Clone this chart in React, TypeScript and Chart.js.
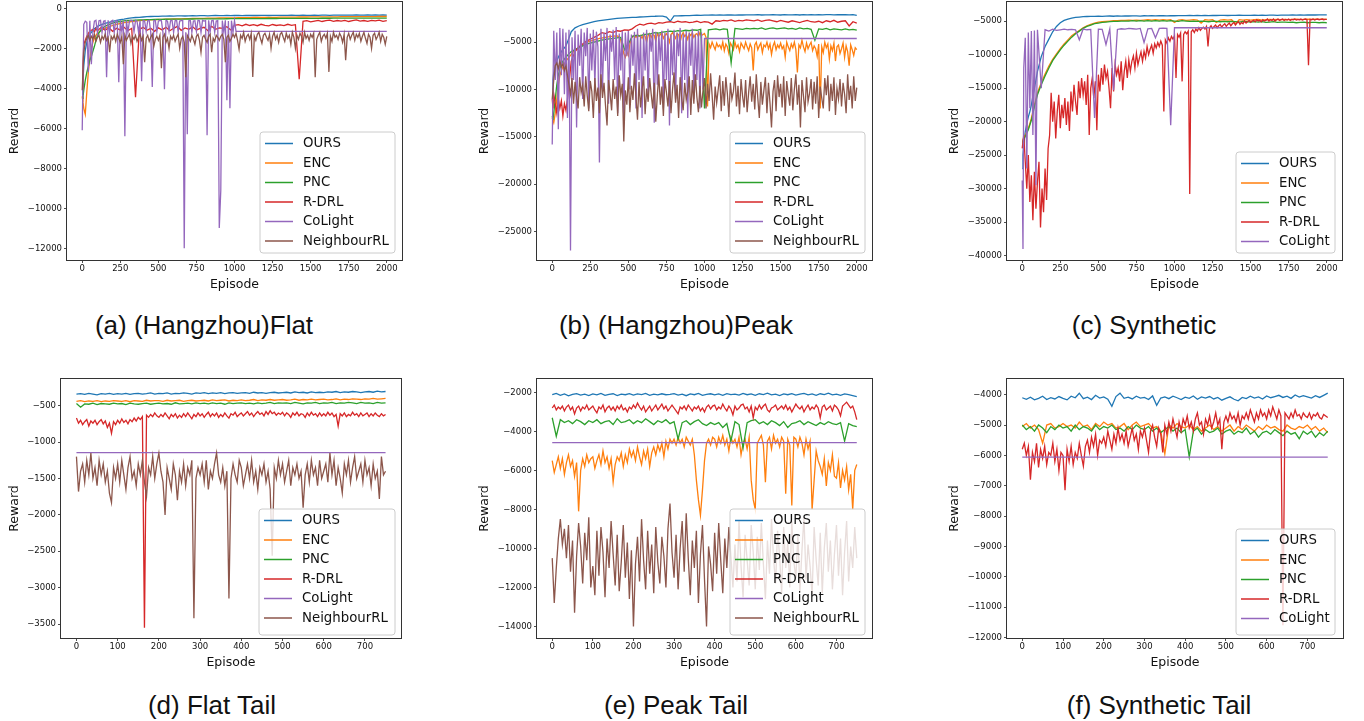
import React, { useEffect, useRef } from 'react';
import { Chart, registerables } from 'chart.js';

Chart.register(...registerables);

// ---------- categories (episodes) ----------
const TOP_EP = [0, 5, 10, 20, 30, 40, 50, 60, 70, 80, 90, 100,
  125, 150, 175, 200, 225, 250, 275, 300,
  325, 350, 375, 400, 425, 450, 475, 500,
  525, 550, 575, 600, 625, 650, 675, 700,
  725, 750, 775, 800, 825, 850, 875, 900,
  925, 950, 975, 1000, 1025, 1050, 1075, 1100,
  1125, 1150, 1175, 1200, 1225, 1250, 1275, 1300,
  1325, 1350, 1375, 1400, 1425, 1450, 1475, 1500,
  1525, 1550, 1575, 1600, 1625, 1650, 1675, 1700,
  1725, 1750, 1775, 1800, 1825, 1850, 1875, 1900,
  1925, 1950, 1975, 2000];

const TOP_FINE_EP = [0, 10, 20, 30, 40, 50, 60, 70, 80, 90,
  100, 110, 120, 130, 140, 150, 160, 170, 180, 190,
  200, 210, 220, 230, 240, 250, 260, 270, 280, 290,
  300, 310, 320, 330, 340, 350, 360, 370, 380, 390,
  400, 410, 420, 430, 440, 450, 460, 470, 480, 490,
  500, 510, 520, 530, 540, 550, 560, 570, 580, 590,
  600, 610, 620, 630, 640, 650, 660, 670, 680, 690,
  700, 710, 720, 730, 740, 750, 760, 770, 780, 790,
  800, 810, 820, 830, 840, 850, 860, 870, 880, 890,
  900, 910, 920, 930, 940, 950, 960, 970, 980, 990,
  1000, 1010, 1020, 1030, 1040, 1050, 1060, 1070, 1080, 1090,
  1100, 1110, 1120, 1130, 1140, 1150, 1160, 1170, 1180, 1190,
  1200, 1210, 1220, 1230, 1240, 1250, 1260, 1270, 1280, 1290,
  1300, 1310, 1320, 1330, 1340, 1350, 1360, 1370, 1380, 1390,
  1400, 1410, 1420, 1430, 1440, 1450, 1460, 1470, 1480, 1490,
  1500, 1510, 1520, 1530, 1540, 1550, 1560, 1570, 1580, 1590,
  1600, 1610, 1620, 1630, 1640, 1650, 1660, 1670, 1680, 1690,
  1700, 1710, 1720, 1730, 1740, 1750, 1760, 1770, 1780, 1790,
  1800, 1810, 1820, 1830, 1840, 1850, 1860, 1870, 1880, 1890,
  1900, 1910, 1920, 1930, 1940, 1950, 1960, 1970, 1980, 1990,
  2000];

const TAIL_EP = [0, 10, 20, 30, 40, 50, 60, 70, 80, 90,
  100, 110, 120, 130, 140, 150, 160, 170, 180, 190,
  200, 210, 220, 230, 240, 250, 260, 270, 280, 290,
  300, 310, 320, 330, 340, 350, 360, 370, 380, 390,
  400, 410, 420, 430, 440, 450, 460, 470, 480, 490,
  500, 510, 520, 530, 540, 550, 560, 570, 580, 590,
  600, 610, 620, 630, 640, 650, 660, 670, 680, 690,
  700, 710, 720, 730, 740, 750];

const TAIL_FINE_EP = [0, 5, 10, 15, 20, 25, 30, 35, 40, 45,
  50, 55, 60, 65, 70, 75, 80, 85, 90, 95,
  100, 105, 110, 115, 120, 125, 130, 135, 140, 145,
  150, 155, 160, 165, 170, 175, 180, 185, 190, 195,
  200, 205, 210, 215, 220, 225, 230, 235, 240, 245,
  250, 255, 260, 265, 270, 275, 280, 285, 290, 295,
  300, 305, 310, 315, 320, 325, 330, 335, 340, 345,
  350, 355, 360, 365, 370, 375, 380, 385, 390, 395,
  400, 405, 410, 415, 420, 425, 430, 435, 440, 445,
  450, 455, 460, 465, 470, 475, 480, 485, 490, 495,
  500, 505, 510, 515, 520, 525, 530, 535, 540, 545,
  550, 555, 560, 565, 570, 575, 580, 585, 590, 595,
  600, 605, 610, 615, 620, 625, 630, 635, 640, 645,
  650, 655, 660, 665, 670, 675, 680, 685, 690, 695,
  700, 705, 710, 715, 720, 725, 730, 735, 740, 745,
  750];

const FLAT_EP = [0, 750];

const SERIES_NAMES = ['OURS', 'ENC', 'PNC', 'R-DRL', 'CoLight', 'NeighbourRL'];
const SERIES_COLORS = ['#1f77b4', '#ff7f0e', '#2ca02c', '#d62728', '#9467bd', '#8c564b'];

const TOP_X_TICKS = [0, 250, 500, 750, 1000, 1250, 1500, 1750, 2000];
const TAIL_X_TICKS = [0, 100, 200, 300, 400, 500, 600, 700];
const A_Y_TICKS = [0, -2000, -4000, -6000, -8000, -10000, -12000];
const B_Y_TICKS = [-5000, -10000, -15000, -20000, -25000];
const C_Y_TICKS = [-5000, -10000, -15000, -20000, -25000, -30000, -35000, -40000];
const D_Y_TICKS = [-500, -1000, -1500, -2000, -2500, -3000, -3500];
const E_Y_TICKS = [-2000, -4000, -6000, -8000, -10000, -12000, -14000];
const F_Y_TICKS = [-4000, -5000, -6000, -7000, -8000, -9000, -10000, -11000, -12000];

// ---------- (a) (Hangzhou)Flat ----------
const A_OURS = [-4300, -3600, -2900, -2100, -1700, -1450, -1300, -1200, -1100, -1020, -960, -900,
  -820, -750, -700, -650, -610, -570, -540, -500,
  -480, -460, -450, -435, -420, -410, -405, -400,
  -395, -390, -385, -390, -380, -375, -385, -375,
  -370, -375, -365, -370, -375, -365, -360, -370,
  -365, -360, -365, -355, -360, -365, -355, -360,
  -355, -360, -350, -355, -360, -350, -355, -350,
  -355, -350, -345, -355, -350, -345, -350, -355,
  -345, -350, -345, -340, -350, -345, -340, -345,
  -345, -340, -345, -335, -340, -345, -335, -340,
  -335, -340, -335, -340];
const A_ENC = [-4400, -4700, -5000, -5300, -4200, -3200, -2500, -2000, -1700, -1500, -1350, -1250,
  -1100, -1000, -920, -860, -800, -760, -720, -690,
  -660, -640, -620, -600, -590, -580, -570, -560,
  -550, -545, -540, -535, -530, -525, -520, -515,
  -510, -505, -500, -500, -495, -490, -490, -485,
  -480, -480, -475, -475, -470, -470, -465, -465,
  -460, -460, -455, -455, -450, -450, -450, -445,
  -445, -440, -440, -440, -435, -435, -435, -430,
  -430, -430, -430, -425, -425, -425, -425, -420,
  -420, -420, -420, -420, -415, -415, -415, -415,
  -415, -410, -410, -410];
const A_PNC = [-4500, -4400, -4100, -3600, -3200, -2900, -2600, -2400, -2150, -1900, -1600, -1350,
  -1050, -900, -800, -740, -690, -660, -630, -610,
  -600, -590, -580, -575, -570, -565, -560, -555,
  -550, -548, -545, -545, -540, -540, -538, -535,
  -535, -532, -530, -530, -528, -528, -525, -525,
  -525, -522, -520, -520, -520, -518, -518, -515,
  -515, -515, -512, -512, -510, -510, -510, -508,
  -508, -505, -505, -505, -503, -503, -500, -500,
  -500, -500, -498, -498, -498, -495, -495, -495,
  -495, -493, -493, -492, -492, -490, -490, -490,
  -490, -488, -488, -488];
const A_RDRL = [-4000, -2800, -1800, -1600, -1400, -1250, -1150, -1100, -1050, -1180, -1000, -1120,
  -950, -1100, -980, -1150, -1000, -1080, -950, -1120,
  -1000, -4450, -1050, -950, -1100, -1000, -1150, -980,
  -1080, -950, -1120, -1000, -900, -1100, -980, -1050,
  -920, -1080, -1000, -950, -1120, -900, -1050, -980,
  -1000, -920, -1080, -850, -820, -880, -800, -860,
  -820, -870, -800, -850, -880, -810, -860, -830,
  -870, -800, -850, -820, -3550, -650, -620, -680,
  -640, -600, -660, -620, -590, -650, -610, -640,
  -600, -660, -620, -580, -640, -610, -650, -600,
  -630, -590, -650, -620];
const A_COL = [-6100, -800, -650, -700, -3200, -620, -2800, -1200, -640, -600,
  -1250, -620, -600, -1200, -650, -620, -3450, -600, -1180, -640,
  -600, -1200, -620, -640, -3700, -600, -1150, -620, -6400, -600,
  -1200, -640, -600, -620, -1180, -600, -650, -1200, -620, -3650,
  -600, -640, -1150, -620, -600, -1200, -3930, -620, -600, -1180,
  -640, -600, -620, -1200, -4050, -600, -640, -1150, -620, -600,
  -1200, -620, -600, -1180, -640, -620, -600, -12000, -1200, -6300,
  -620, -600, -1200, -640, -620, -1150, -600, -620, -1200, -600,
  -640, -620, -6350, -600, -1180, -620, -600, -1200, -640, -620,
  -10980, -9100, -620, -1200, -600, -4600, -640, -5000, -620, -1200,
  -620, -1150, -1150, -1150, -1150, -1150, -1150, -1150, -1150, -1150,
  -1150, -1150, -1150, -1150, -1150, -1150, -1150, -1150, -1150, -1150,
  -1150, -1150, -1150, -1150, -1150, -1150, -1150, -1150, -1150, -1150,
  -1150, -1150, -1150, -1150, -1150, -1150, -1150, -1150, -1150, -1150,
  -1150, -1150, -1150, -1150, -1150, -1150, -1150, -1150, -1150, -1150,
  -1150, -1150, -1150, -1150, -1150, -1150, -1150, -1150, -1150, -1150,
  -1150, -1150, -1150, -1150, -1150, -1150, -1150, -1150, -1150, -1150,
  -1150, -1150, -1150, -1150, -1150, -1150, -1150, -1150, -1150, -1150,
  -1150, -1150, -1150, -1150, -1150, -1150, -1150, -1150, -1150, -1150,
  -1150, -1150, -1150, -1150, -1150, -1150, -1150, -1150, -1150, -1150,
  -1150];
const A_NRL = [-4100, -2200, -1700, -1500, -1350, -1600, -1400, -1550, -1300, -1650,
  -1450, -1350, -1700, -1400, -1550, -1300, -1600, -1450, -2200, -1400,
  -1550, -1350, -1650, -1300, -1500, -1700, -1400, -2800, -1350, -1600,
  -1450, -1300, -1750, -1400, -1550, -1350, -1650, -1450, -1300, -1600,
  -1400, -2700, -1500, -1350, -1650, -1450, -1300, -1900, -1550, -1400,
  -1600, -1350, -3000, -1450, -1300, -1700, -1500, -2000, -1400, -1550,
  -1350, -1650, -1450, -1300, -2000, -1550, -1400, -1700, -3450, -1350,
  -1500, -1650, -1350, -1550, -1800, -1400, -1300, -1600, -2200, -1450,
  -1350, -1550, -1700, -1400, -1300, -2200, -1500, -1650, -1350, -1450,
  -1600, -1400, -1300, -1550, -2700, -1450, -1350, -1650, -1500, -1300,
  -1450, -1250, -1600, -2050, -1350, -1500, -1200, -1650, -1400, -1300,
  -1550, -1250, -3430, -1400, -1600, -1300, -1200, -1500, -1750, -1350,
  -1250, -1450, -1600, -1300, -2000, -1400, -1200, -1550, -1350, -1700,
  -1300, -1200, -1450, -1650, -1250, -1500, -1350, -1800, -1200, -1450,
  -2000, -1350, -1550, -1250, -1400, -1700, -1200, -1500, -1350, -1600,
  -1300, -1450, -1250, -3450, -1550, -1350, -1200, -1650, -1400, -1300,
  -1500, -1250, -3180, -1400, -1650, -1200, -1450, -1350, -1550, -1250,
  -1400, -1700, -1300, -2600, -1450, -1250, -1550, -1350, -1200, -1600,
  -1300, -1450, -1250, -1650, -1400, -1200, -1500, -1750, -1300, -1450,
  -2000, -1350, -1250, -1550, -1400, -1200, -1650, -1300, -1450, -1800,
  -1400];

// ---------- (b) (Hangzhou)Peak ----------
const B_OURS = [-10000, -9000, -8200, -7500, -7000, -6600, -6300, -6000, -5800, -5600, -5400, -5000,
  -3900, -3500, -3300, -3150, -3050, -2950, -2850, -2750,
  -2700, -2650, -2600, -2550, -2500, -2470, -2440, -2420,
  -2400, -2380, -2350, -2330, -2300, -2280, -2270, -2250,
  -2250, -2350, -2800, -2240, -2230, -2220, -2210, -2200,
  -2180, -2160, -2170, -2150, -2160, -2140, -2150, -2130,
  -2150, -2140, -2130, -2150, -2120, -2140, -2130, -2120,
  -2130, -2110, -2140, -2120, -2130, -2110, -2120, -2140,
  -2110, -2130, -2120, -2100, -2140, -2110, -2120, -2100,
  -2120, -2100, -2130, -2110, -2090, -2120, -2100, -2110,
  -2100, -2120, -2090, -2170];
const B_ENC = [-13000, -13500, -12500, -11000, -9500, -8500, -8000, -7600, -7300, -7000,
  -6800, -6600, -6400, -6200, -6000, -5900, -5700, -5600, -5500, -5400,
  -5300, -5200, -5100, -5000, -4950, -4900, -4850, -4800, -4750, -4700,
  -4650, -4600, -4600, -4550, -4500, -4500, -4450, -4450, -4400, -4400,
  -4400, -4350, -4400, -4350, -4500, -4800, -5500, -6200, -6600, -6000,
  -6400, -5200, -4600, -4400, -4300, -4500, -4200, -4400, -4300, -4600,
  -4200, -4400, -5000, -4300, -4100, -4500, -4200, -4300, -4900, -4100,
  -4400, -4200, -4000, -4600, -4300, -4100, -4400, -5000, -4200, -4000,
  -4300, -4600, -4100, -4200, -5000, -4300, -4000, -4400, -4200, -4700,
  -4100, -4300, -4000, -4500, -4200, -4100, -4400, -4000, -4300, -4200,
  -4100, -4500, -11800, -5200, -5600, -5000, -5400, -5800, -5100, -5500,
  -5300, -5700, -5000, -5900, -5200, -5500, -6200, -5100, -5400, -5800,
  -5000, -5600, -5300, -6000, -5100, -5400, -5700, -5000, -5500, -5900,
  -5200, -5600, -8000, -5300, -5000, -5800, -5400, -5100, -6100, -5300,
  -5500, -5000, -5700, -5200, -6300, -5400, -5000, -5800, -5300, -5600,
  -5100, -5700, -5400, -6600, -5000, -5500, -5900, -5200, -5600, -5000,
  -5800, -8200, -5300, -5600, -4800, -5500, -6000, -5100, -5700, -5300,
  -5000, -5900, -5400, -5700, -6500, -5200, -12000, -5500, -6100, -5000,
  -5600, -5200, -6800, -5400, -5900, -5100, -7000, -5500, -5300, -6200,
  -5700, -5100, -6600, -5400, -6000, -7500, -5300, -5800, -6400, -5600,
  -5800];
const B_PNC = [-12800, -13200, -12500, -11000, -9500, -8500, -7800, -7300, -7000, -6800, -6600, -6400,
  -6000, -5800, -5600, -5400, -5200, -5100, -5000, -4900,
  -4800, -4700, -4650, -4600, -4550, -4500, -5800, -5200,
  -4400, -4300, -4350, -4200, -4150, -4100, -4000, -4050,
  -3950, -3900, -3850, -3900, -3800, -3850, -3750, -3800,
  -3700, -3750, -3650, -12000, -3700, -3650, -3600, -3700,
  -3600, -3650, -7200, -3550, -3600, -3650, -3550, -3600,
  -3550, -3600, -3500, -3650, -3550, -3500, -3600, -3550,
  -3500, -3600, -3550, -3650, -3500, -3600, -3550, -3650,
  -4800, -3600, -3650, -3550, -3700, -3600, -3650, -3700,
  -3600, -3700, -3650, -3730];
const B_RDRL = [-11000, -12000, -10500, -11500, -12500, -11000, -12000, -11200, -12800, -11500, -12200, -11000,
  -7000, -6000, -5500, -5200, -4900, -4700, -4500, -4300,
  -4000, -4100, -3900, -4000, -3800, -3850, -3700, -3750,
  -3600, -3300, -3100, -3200, -3050, -3000, -3100, -2950,
  -3000, -2900, -2850, -2950, -2800, -2900, -2850, -2950,
  -2900, -2800, -2950, -2850, -2900, -3100, -2750, -2800,
  -2700, -2750, -2650, -2800, -2700, -2750, -2650, -2700,
  -2750, -2650, -2800, -2700, -2650, -2750, -2850, -2700,
  -2800, -2900, -2750, -2850, -2950, -2800, -2700, -2850,
  -2900, -2800, -2950, -2750, -2850, -2700, -2900, -2800,
  -2750, -3300, -2850, -3000];
const B_COL = [-15800, -3800, -9000, -4000, -14200, -3500, -8500, -3600, -10500, -4000,
  -13000, -3700, -27000, -4500, -9000, -3800, -14000, -4200, -7500, -3600,
  -11000, -4000, -6500, -3500, -12000, -4100, -8000, -3700, -9500, -3900,
  -5500, -17700, -3600, -10000, -4000, -7000, -3500, -11500, -4200, -6000,
  -3700, -9000, -3400, -12500, -4100, -8000, -3800, -13500, -4000, -6500,
  -3800, -10000, -4200, -7500, -3900, -12000, -3600, -9000, -4300, -13000,
  -4000, -8000, -3700, -11000, -4100, -6000, -3600, -13500, -3900, -9500,
  -4100, -7000, -3800, -12000, -4000, -9000, -3600, -13800, -4200, -8500,
  -3700, -11000, -4000, -6500, -3500, -12500, -4100, -9000, -3800, -13000,
  -4000, -7500, -3600, -11000, -4200, -9000, -3800, -12000, -4000, -10000,
  -4620, -4620, -4620, -4620, -4620, -4620, -4620, -4620, -4620, -4620,
  -4620, -4620, -4620, -4620, -4620, -4620, -4620, -4620, -4620, -4620,
  -4620, -4620, -4620, -4620, -4620, -4620, -4620, -4620, -4620, -4620,
  -4620, -4620, -4620, -4620, -4620, -4620, -4620, -4620, -4620, -4620,
  -4620, -4620, -4620, -4620, -4620, -4620, -4620, -4620, -4620, -4620,
  -4620, -4620, -4620, -4620, -4620, -4620, -4620, -4620, -4620, -4620,
  -4620, -4620, -4620, -4620, -4620, -4620, -4620, -4620, -4620, -4620,
  -4620, -4620, -4620, -4620, -4620, -4620, -4620, -4620, -4620, -4620,
  -4620, -4620, -4620, -4620, -4620, -4620, -4620, -4620, -4620, -4620,
  -4620, -4620, -4620, -4620, -4620, -4620, -4620, -4620, -4620, -4620,
  -4620];
const B_NRL = [-11000, -9000, -7500, -7200, -7800, -7000, -7600, -7300, -8000, -7500,
  -8500, -9500, -10500, -8800, -11500, -9200, -10800, -12000, -8700, -10300,
  -9500, -11800, -8600, -10700, -12300, -9100, -10200, -13000, -8800, -11200,
  -9800, -12500, -8400, -10900, -9300, -11700, -13800, -9000, -10400, -12200,
  -8900, -11000, -9700, -12800, -8500, -10600, -9400, -15500, -10100, -11600,
  -8700, -12400, -9600, -11100, -8300, -10800, -13200, -9200, -11900, -10000,
  -8600, -12600, -9900, -11300, -8800, -10500, -12000, -9300, -13400, -10700,
  -8400, -11600, -9700, -12800, -8900, -10300, -11800, -9100, -12500, -10000,
  -8200, -11400, -9500, -13000, -8700, -10900, -12200, -9300, -11100, -10200,
  -8600, -12700, -9000, -11500, -8400, -10800, -12400, -9600, -11900, -10100,
  -8800, -12000, -9400, -11200, -8300, -10600, -13200, -9700, -11400, -10000,
  -8500, -12300, -9100, -11700, -8700, -10400, -12900, -9300, -11000, -10200,
  -8200, -11800, -9600, -12600, -8900, -10700, -11900, -9000, -12400, -10300,
  -8600, -11300, -9400, -12100, -8400, -10900, -13000, -9200, -11600, -10100,
  -8700, -12500, -9300, -11400, -14000, -10200, -9000, -12300, -8500, -10800,
  -9400, -11900, -8600, -12800, -9100, -10500, -11700, -8800, -12200, -10000,
  -8400, -11600, -9500, -14000, -9000, -10700, -12400, -8700, -11300, -10400,
  -8900, -12100, -9200, -11500, -8600, -13000, -9700, -10900, -12000, -8800,
  -10600, -8500, -12300, -9400, -11200, -8700, -12700, -9900, -11000, -8900,
  -11800, -9300, -10500, -12500, -8400, -11100, -9600, -12000, -8600, -11200,
  -9800];

// ---------- (c) Synthetic ----------
const C_OURS = [-27000, -25000, -23500, -21500, -20300, -19300, -18500, -17500, -16200, -15000, -13800, -12500,
  -10300, -8800, -7700, -6600, -5800, -5250, -4900, -4700,
  -4550, -4450, -4400, -4350, -4320, -4300, -4300, -4280,
  -4300, -4270, -4250, -4280, -4240, -4260, -4230, -4250,
  -4240, -4220, -4250, -4210, -4230, -4200, -4220, -4210,
  -4200, -4220, -4190, -4210, -4180, -4200, -4190, -4170,
  -4190, -4170, -4180, -4160, -4180, -4150, -4170, -4160,
  -4150, -4170, -4140, -4160, -4130, -4150, -4140, -4160,
  -4130, -4150, -4120, -4140, -4130, -4110, -4140, -4120,
  -4110, -4130, -4100, -4120, -4090, -4110, -4100, -4080,
  -4100, -4080, -4090, -4070];
const C_ENC = [-23000, -22700, -22400, -22000, -21500, -21000, -20300, -19500, -18500, -17500, -16600, -15700,
  -14200, -12900, -11700, -10700, -9900, -9100, -8400, -7800,
  -7200, -6800, -6400, -6000, -5700, -5500, -5300, -5150,
  -5100, -5050, -5000, -4950, -4950, -4900, -4900, -4850,
  -4900, -4850, -4900, -4850, -4800, -4850, -4800, -4850,
  -4800, -4850, -4800, -5200, -4850, -4800, -4900, -4850,
  -4800, -4850, -5300, -4800, -4850, -4800, -5200, -4850,
  -4800, -4850, -4800, -5400, -4800, -4850, -4800, -4850,
  -4800, -4750, -4850, -4800, -4750, -4800, -4750, -4800,
  -4750, -4800, -4750, -4700, -4800, -4750, -4700, -4750,
  -4700, -4750, -4700, -4750];
const C_PNC = [-23200, -22900, -22600, -22200, -21700, -21200, -20500, -19800, -18800, -17800, -16900, -16000,
  -14500, -13200, -12000, -10900, -10100, -9300, -8600, -8000,
  -7400, -6900, -6500, -6100, -5800, -5600, -5400, -5300,
  -5200, -5150, -5100, -5050, -5050, -5000, -5000, -5000,
  -4950, -5000, -4950, -5000, -4950, -5000, -4950, -5000,
  -4950, -5000, -4950, -5000, -5050, -4950, -5000, -5050,
  -5000, -5050, -5000, -5050, -5100, -5000, -5050, -5100,
  -5050, -5100, -5050, -5100, -5150, -5050, -5100, -5150,
  -5100, -5150, -5100, -5200, -5150, -5100, -5200, -5150,
  -5150, -5200, -5150, -5250, -5200, -5150, -5250, -5200,
  -5200, -5250, -5200, -5250];
const C_RDRL = [-24000, -22000, -26000, -30000, -25000, -32000, -28000, -34700, -27500, -33000,
  -29000, -26000, -35800, -30000, -33500, -27000, -31700, -24000, -22000, -15700,
  -20000, -17000, -22500, -18500, -16000, -21000, -17500, -19500, -16500, -20500,
  -17000, -21400, -15500, -18500, -14500, -17000, -19000, -14000, -16500, -13500,
  -16000, -14000, -17500, -13000, -22000, -15000, -13500, -16500, -14000, -21300,
  -13000, -15500, -12000, -14500, -11500, -13500, -12500, -15000, -18000, -12000,
  -15500, -11500, -13000, -12000, -14000, -11000, -15300, -12500, -11000, -13500,
  -10800, -12500, -11000, -10200, -12000, -9800, -11500, -10500, -9600, -11000,
  -9500, -10500, -8800, -10000, -9200, -8600, -9800, -8400, -9000, -8200,
  -8800, -8000, -8600, -18500, -7800, -8300, -7500, -8000, -7300, -7700,
  -7200, -13500, -7000, -7400, -6800, -14000, -7000, -6600, -6900, -6500,
  -30800, -6600, -6300, -6700, -6200, -6500, -6000, -6400, -6100, -5900,
  -6200, -5800, -8800, -6000, -5700, -6100, -5800, -5600, -6000, -5700,
  -5500, -5900, -5600, -5400, -5800, -5500, -5300, -5700, -5400, -5200,
  -5600, -5300, -5100, -5500, -5200, -5400, -5000, -5300, -5100, -4900,
  -5200, -5000, -4900, -5100, -4800, -5000, -4900, -5100, -4800, -5000,
  -4900, -4700, -5000, -4800, -4900, -4700, -5000, -4800, -4700, -4900,
  -4800, -4700, -4900, -4750, -4850, -4700, -4900, -4750, -4800, -4700,
  -4850, -4750, -4800, -4700, -4850, -4750, -4700, -4800, -11600, -4750,
  -4800, -4700, -4850, -4750, -4700, -4800, -4750, -4700, -4800, -4750,
  -4750];
const C_COL = [-28800, -39000, -12000, -7500, -27000, -6700, -18000, -6500, -22000, -6400, -29500, -6300,
  -15000, -6300, -6500, -6200, -6400, -6300, -6200, -6300,
  -6250, -6300, -7800, -6200, -6300, -6250, -19450, -6200,
  -6250, -8500, -6200, -15300, -6250, -6150, -6200, -6100,
  -6150, -6200, -6100, -8200, -6150, -6100, -7500, -6100,
  -6050, -6100, -20550, -6000, -6000, -6000, -6000, -6000,
  -6000, -6000, -6000, -6000, -6000, -6000, -6000, -6000,
  -6000, -6000, -6000, -6000, -6000, -6000, -6000, -6000,
  -6000, -6000, -6000, -6000, -6000, -6000, -6000, -6000,
  -6000, -6000, -6000, -6000, -6000, -6000, -6000, -6000,
  -6000, -6000, -6000, -6000];

// ---------- (d) Flat Tail ----------
const D_OURS = [-340, -335, -345, -330, -340, -350, -335, -340, -330, -345,
  -335, -340, -330, -345, -335, -330, -340, -335, -325, -340,
  -330, -335, -325, -340, -330, -335, -325, -330, -340, -325,
  -330, -320, -335, -325, -330, -320, -335, -325, -320, -330,
  -325, -320, -330, -315, -325, -320, -330, -320, -315, -325,
  -320, -315, -325, -310, -320, -315, -325, -310, -320, -315,
  -320, -310, -315, -305, -320, -310, -315, -305, -310, -320,
  -310, -305, -315, -300, -310, -305];
const D_ENC = [-440, -430, -445, -435, -440, -430, -445, -435, -440, -430,
  -435, -440, -430, -445, -430, -435, -440, -425, -435, -430,
  -430, -440, -425, -435, -430, -425, -440, -430, -425, -435,
  -430, -425, -435, -420, -430, -425, -420, -435, -425, -430,
  -420, -430, -425, -415, -430, -420, -425, -415, -425, -420,
  -415, -425, -420, -410, -425, -415, -420, -410, -420, -415,
  -410, -420, -415, -405, -420, -410, -415, -405, -410, -415,
  -405, -410, -400, -410, -405, -400];
const D_PNC = [-470, -520, -475, -480, -465, -485, -470, -475, -480, -465,
  -475, -470, -485, -465, -475, -480, -470, -465, -480, -470,
  -465, -475, -470, -480, -460, -475, -470, -465, -475, -460,
  -470, -465, -475, -460, -470, -465, -480, -460, -470, -465,
  -460, -470, -465, -475, -460, -470, -465, -455, -470, -460,
  -465, -460, -470, -455, -465, -475, -460, -465, -455, -470,
  -460, -465, -455, -470, -460, -465, -455, -460, -470, -455,
  -465, -460, -470, -455, -465, -460];
const D_RDRL = [-670, -740, -700, -760, -720, -690, -780, -710, -740, -700,
  -760, -720, -690, -750, -710, -800, -740, -880, -720, -760,
  -700, -740, -680, -730, -700, -750, -690, -720, -670, -710,
  -660, -690, -650, -3550, -630, -660, -620, -650, -600, -640,
  -660, -620, -650, -600, -640, -680, -620, -650, -610, -670,
  -630, -660, -610, -650, -600, -640, -680, -620, -650, -600,
  -640, -610, -660, -620, -590, -650, -610, -640, -600, -660,
  -620, -650, -600, -640, -670, -610, -630, -590, -650, -620,
  -600, -640, -610, -580, -630, -600, -650, -610, -580, -620,
  -600, -640, -580, -620, -570, -610, -590, -630, -600, -620,
  -590, -640, -600, -620, -660, -600, -630, -590, -640, -610,
  -620, -660, -600, -640, -590, -630, -610, -650, -600, -640,
  -610, -640, -590, -630, -600, -650, -620, -780, -610, -640,
  -600, -650, -620, -640, -590, -630, -610, -650, -600, -640,
  -620, -600, -650, -610, -640, -600, -630, -650, -610, -640,
  -620];
const D_COL = [-1145, -1145];
const D_NRL = [-1200, -1680, -1400, -1300, -1550, -1250, -1450, -1150, -1500, -1350,
  -1600, -1250, -1450, -1300, -1550, -1400, -1700, -1830, -1350, -1500,
  -1300, -1550, -1250, -1450, -1650, -1350, -1200, -1500, -1400, -1600,
  -1300, -1450, -1250, -1550, -1750, -1350, -1450, -1200, -1500, -1300,
  -1150, -1400, -1550, -2000, -1350, -1500, -1650, -1300, -1450, -1800,
  -1400, -1550, -1300, -1600, -1350, -1450, -1250, -3420, -1500, -1350,
  -1450, -1300, -1550, -1250, -1650, -1400, -1500, -1300, -1150, -1450,
  -1550, -1350, -1600, -1400, -3150, -1500, -1300, -1450, -1550, -1250,
  -1350, -1600, -1450, -1300, -1500, -1250, -1550, -1400, -1650, -1350,
  -1450, -1300, -1550, -1400, -1650, -2560, -1350, -1500, -1250, -1450,
  -1300, -1550, -1400, -1250, -1600, -1350, -1450, -1300, -1500, -1400,
  -1900, -1450, -1300, -1550, -1250, -1450, -1350, -1600, -1250, -1500,
  -1400, -1300, -1550, -1150, -1450, -1250, -1600, -1350, -1500, -1700,
  -1300, -1450, -1250, -1550, -1350, -1200, -1500, -1400, -1300, -1550,
  -1250, -1450, -1350, -1600, -1300, -1500, -1400, -1780, -1200, -1450,
  -1400];

// ---------- (e) Peak Tail ----------
const E_OURS = [-2120, -2050, -2150, -2080, -2180, -2100, -2060, -2140, -2090, -2160,
  -2080, -2130, -2050, -2150, -2100, -2070, -2160, -2090, -2120, -2060,
  -2140, -2080, -2110, -2050, -2150, -2090, -2130, -2070, -2120, -2100,
  -2060, -2140, -2090, -2170, -2080, -2120, -2050, -2150, -2100, -2070,
  -2130, -2080, -2150, -2060, -2110, -2090, -2140, -2050, -2120, -2080,
  -2150, -2070, -2110, -2040, -2130, -2090, -2160, -2080, -2120, -2060,
  -2140, -2090, -2050, -2130, -2080, -2150, -2070, -2110, -2040, -2130,
  -2090, -2150, -2080, -2120, -2170, -2220];
const E_ENC = [-5500, -6100, -5700, -5300, -5900, -5400, -6200, -5600, -5200, -5800,
  -5500, -6300, -5600, -8100, -6000, -5400, -5800, -5200, -5600, -5400,
  -5300, -5900, -5500, -5200, -5700, -5000, -5600, -5300, -5900, -5400,
  -6600, -5700, -5300, -5500, -5100, -5800, -5200, -5600, -4900, -5300,
  -5000, -5500, -4800, -5300, -5700, -5000, -5400, -4900, -5800, -5100,
  -4800, -5200, -4700, -5000, -4600, -5300, -4500, -4900, -4400, -4600,
  -4400, -4700, -4300, -4600, -4400, -4800, -4300, -4500, -4700, -4400,
  -5200, -6500, -7500, -8300, -7000, -5500, -4600, -4400, -4700, -4300,
  -4400, -4800, -4300, -4600, -4200, -4700, -4400, -5000, -4300, -4600,
  -4400, -4800, -4300, -5200, -4600, -4400, -4900, -4300, -6500, -7500,
  -8000, -4600, -4400, -4200, -4700, -6600, -4500, -4300, -4900, -4200,
  -4600, -4400, -4800, -4300, -4500, -7200, -4400, -4700, -7800, -4300,
  -4400, -4800, -4300, -4600, -5200, -4400, -4900, -4500, -8000, -6500,
  -5000, -5500, -5800, -6200, -5400, -6800, -5600, -6000, -5200, -6300,
  -6400, -5600, -6900, -6000, -6500, -5800, -7000, -6200, -8000, -6000,
  -5700];
const E_PNC = [-3300, -4250, -3400, -3550, -3450, -3600, -3400, -3500, -3650, -3450,
  -3550, -3400, -3600, -3500, -3450, -3650, -3350, -3550, -3500, -3400,
  -3600, -3450, -3550, -3350, -3500, -3650, -3450, -3550, -3400, -3600,
  -3500, -4400, -3550, -3450, -3650, -3500, -3400, -3600, -3700, -3550,
  -3650, -3550, -3800, -3600, -4500, -3500, -3650, -4850, -3550, -3450,
  -3400, -3600, -3500, -3650, -3450, -3550, -3700, -3500, -3800, -3600,
  -3550, -3450, -3650, -3500, -3600, -3700, -3550, -3650, -3500, -3600,
  -3650, -3550, -4500, -3600, -3700, -3750];
const E_RDRL = [-2800, -2650, -2900, -2750, -2850, -2700, -2950, -2750, -2650, -2900,
  -2750, -3100, -2800, -2700, -2950, -2750, -2850, -2650, -2900, -2800,
  -2700, -2900, -3050, -2750, -2850, -2650, -3000, -2800, -2700, -2900,
  -2750, -2950, -2700, -2850, -2650, -2900, -2800, -3000, -2750, -2850,
  -2650, -2800, -2550, -2750, -2900, -2700, -3000, -2850, -2700, -2950,
  -2800, -2650, -2900, -2750, -2600, -2850, -2700, -2950, -2800, -2650,
  -2800, -2950, -3100, -2750, -2850, -2700, -2900, -2650, -2800, -2950,
  -2750, -2850, -2700, -2950, -2800, -3000, -2750, -2650, -2850, -2700,
  -2650, -2900, -2750, -2850, -2600, -2800, -2950, -2700, -2850, -3150,
  -2700, -2900, -2800, -2650, -2600, -2850, -2750, -3000, -2700, -3300,
  -2750, -2900, -2650, -2850, -2700, -2600, -2900, -3000, -2800, -2750,
  -2650, -2900, -2800, -2700, -2850, -2650, -2900, -2750, -3000, -2800,
  -2600, -2750, -2850, -2700, -3000, -2800, -2650, -2900, -2750, -2850,
  -2650, -2800, -3300, -2750, -2650, -2900, -2800, -2700, -2950, -2650,
  -2750, -2900, -3200, -2700, -2600, -2500, -2650, -2800, -2700, -3000,
  -3400];
const E_COL = [-4580, -4580];
const E_NRL = [-10500, -12800, -11000, -9500, -8500, -9800, -9000, -10500, -8800, -11200,
  -9600, -13300, -10400, -8700, -9900, -11800, -9200, -10600, -8400, -12000,
  -10900, -12400, -9100, -11400, -8900, -10200, -12500, -9500, -11000, -8600,
  -10300, -11900, -9300, -12200, -10700, -8800, -11500, -9700, -12600, -10100,
  -14000, -10800, -9400, -11700, -8500, -10600, -12100, -9100, -11300, -9800,
  -12300, -8900, -10700, -11800, -9400, -10400, -12000, -9000, -7700, -10200,
  -11500, -9300, -12100, -10000, -8600, -11200, -8200, -10500, -12400, -9600,
  -11000, -9100, -12800, -10300, -8800, -11600, -14000, -9900, -10800, -12200,
  -9200, -11300, -8700, -10600, -12300, -9500, -11000, -8900, -10400, -12000,
  -9800, -11700, -8600, -10900, -12500, -9300, -10600, -11900, -8800, -10200,
  -12100, -9400, -11100, -8700, -10800, -12600, -9600, -11300, -8500, -10500,
  -11800, -9100, -10400, -12300, -8900, -11000, -9700, -12000, -8600, -10700,
  -11500, -9300, -12200, -10100, -8400, -11600, -9800, -10900, -12400, -8900,
  -10600, -11900, -9200, -12300, -10000, -8700, -11200, -9600, -12100, -10300,
  -8800, -11400, -9500, -12400, -10200, -8600, -11700, -9900, -11000, -8900,
  -10500];

// ---------- (f) Synthetic Tail ----------
const F_OURS = [-4100, -4150, -4080, -4170, -4120, -4050, -4160, -4100, -4140, -4060,
  -4120, -4170, -4050, -4100, -3950, -4130, -4080, -4160, -4020, -4110,
  -4070, -4150, -4380, -4060, -3950, -4120, -4080, -4140, -4050, -4110,
  -4090, -4160, -4040, -4350, -4110, -4070, -4130, -4050, -4100, -4160,
  -4080, -4120, -4040, -4150, -4070, -4110, -4060, -4140, -4090, -4180,
  -4120, -4070, -4150, -4200, -4090, -4130, -4050, -4110, -4070, -4140,
  -4040, -4100, -4060, -4020, -4090, -4050, -4120, -4010, -4080, -4030,
  -4070, -4110, -4030, -4090, -4020, -3950];
const F_ENC = [-5050, -4950, -5100, -5000, -5150, -5600, -5000, -4950, -5100, -5050,
  -4950, -5050, -5000, -5100, -4900, -5050, -5000, -5150, -4950, -5050,
  -4900, -5000, -4950, -5100, -5050, -4950, -5150, -5000, -4900, -5050,
  -5000, -4950, -5100, -5050, -5200, -5950, -5000, -5100, -4950, -5050,
  -5100, -5000, -5150, -5050, -5200, -5100, -5000, -5150, -5050, -5200,
  -5100, -5000, -5200, -5050, -5150, -5000, -5100, -5200, -5050, -5150,
  -5000, -5100, -5050, -5150, -5200, -5000, -5100, -5150, -5050, -5100,
  -5000, -5150, -5050, -5200, -5100, -5250];
const F_PNC = [-5000, -5150, -5050, -5200, -5000, -5100, -5250, -5050, -5150, -5000,
  -5100, -5050, -5200, -5000, -5150, -5050, -5100, -5200, -5000, -5150,
  -5050, -5100, -5000, -5150, -5100, -5200, -5050, -5150, -5000, -5100,
  -5150, -5050, -5200, -5100, -5250, -5150, -5050, -5200, -5100, -5250,
  -5150, -6050, -5200, -5100, -5300, -5150, -5250, -5200, -5100, -5300,
  -5200, -5150, -5300, -5200, -5250, -5100, -5300, -5200, -5400, -5250,
  -5200, -5300, -5150, -5250, -5350, -5200, -5300, -5250, -5450, -5200,
  -5300, -5200, -5400, -5250, -5350, -5200];
const F_RDRL = [-5800, -5600, -6000, -5700, -6800, -5900, -6200, -5600, -6400, -5800,
  -6100, -5700, -6300, -5900, -6000, -5600, -6200, -5800, -6500, -5900,
  -6000, -7150, -5800, -6200, -5700, -6300, -5900, -6100, -5600, -6000,
  -6350, -5700, -5500, -5900, -5400, -5700, -5300, -6000, -5500, -5600,
  -5400, -5700, -5200, -5500, -5800, -5300, -5600, -5100, -5500, -5300,
  -5600, -5200, -5700, -5400, -5100, -5500, -5300, -5800, -5200, -5400,
  -5100, -5500, -5900, -5200, -5000, -5400, -5700, -5100, -5300, -5900,
  -5000, -5300, -4900, -5200, -4800, -5100, -5400, -4900, -5200, -4800,
  -5000, -4700, -5100, -4900, -5200, -4800, -4600, -5000, -4900, -5300,
  -4800, -5000, -4700, -5100, -4900, -4600, -5000, -4800, -5800, -4900,
  -4700, -4900, -4600, -4800, -4700, -4900, -4600, -5000, -4700, -4800,
  -4600, -4800, -4500, -4700, -4900, -4600, -4800, -4500, -4700, -4600,
  -4800, -4500, -4700, -4400, -4600, -4800, -4500, -4700, -11600, -4600,
  -4700, -4800, -4600, -4750, -4500, -4700, -4650, -4800, -4600, -4700,
  -4750, -4600, -4800, -4650, -4700, -4600, -4750, -4800, -4650, -4700,
  -4750];
const F_COL = [-6055, -6055];

// ---------- panel configuration ----------
type Series = { x: number[]; y: number[] };
type Box = { l: number; t: number; r: number; b: number };
type PanelCfg = {
  caption: string; capX: number; capY: number;
  frame: Box; xRange: [number, number]; xTicks: number[];
  yRange: [number, number]; yTicks: number[]; yTitleGap: number;
  legend: Box; series: Series[];
};

const PANELS: PanelCfg[] = [
  {
    caption: '(a) (Hangzhou)Flat', capX: 204, capY: 325,
    frame: { l: 67, t: 2, r: 402, b: 260 }, xRange: [-100, 2100], xTicks: TOP_X_TICKS,
    yRange: [-12585, 315], yTicks: A_Y_TICKS, yTitleGap: 52,
    legend: { l: 260, t: 132, r: 395, b: 253 },
    series: [
      { x: TOP_EP, y: A_OURS }, { x: TOP_EP, y: A_ENC }, { x: TOP_EP, y: A_PNC },
      { x: TOP_EP, y: A_RDRL }, { x: TOP_FINE_EP, y: A_COL }, { x: TOP_FINE_EP, y: A_NRL },
    ],
  },
  {
    caption: '(b) (Hangzhou)Peak', capX: 676, capY: 325,
    frame: { l: 537, t: 2, r: 872, b: 260 }, xRange: [-100, 2100], xTicks: TOP_X_TICKS,
    yRange: [-27995, -767], yTicks: B_Y_TICKS, yTitleGap: 52,
    legend: { l: 730, t: 132, r: 865, b: 253 },
    series: [
      { x: TOP_EP, y: B_OURS }, { x: TOP_FINE_EP, y: B_ENC }, { x: TOP_EP, y: B_PNC },
      { x: TOP_EP, y: B_RDRL }, { x: TOP_FINE_EP, y: B_COL }, { x: TOP_FINE_EP, y: B_NRL },
    ],
  },
  {
    caption: '(c) Synthetic', capX: 1144, capY: 325,
    frame: { l: 1007, t: 2, r: 1342, b: 260 }, xRange: [-100, 2100], xTicks: TOP_X_TICKS,
    yRange: [-40643, -2158], yTicks: C_Y_TICKS, yTitleGap: 52,
    legend: { l: 1236, t: 152, r: 1335, b: 253 },
    series: [
      { x: TOP_EP, y: C_OURS }, { x: TOP_EP, y: C_ENC }, { x: TOP_EP, y: C_PNC },
      { x: TOP_FINE_EP, y: C_RDRL }, { x: TOP_EP, y: C_COL },
    ],
  },
  {
    caption: '(d) Flat Tail', capX: 212, capY: 705,
    frame: { l: 61, t: 379, r: 401, b: 638 }, xRange: [-37.5, 787.5], xTicks: TAIL_X_TICKS,
    yRange: [-3692, -133], yTicks: D_Y_TICKS, yTitleGap: 46,
    legend: { l: 259, t: 509, r: 395, b: 635 },
    series: [
      { x: TAIL_EP, y: D_OURS }, { x: TAIL_EP, y: D_ENC }, { x: TAIL_EP, y: D_PNC },
      { x: TAIL_FINE_EP, y: D_RDRL }, { x: FLAT_EP, y: D_COL }, { x: TAIL_FINE_EP, y: D_NRL },
    ],
  },
  {
    caption: '(e) Peak Tail', capX: 676, capY: 705,
    frame: { l: 537, t: 379, r: 872, b: 638 }, xRange: [-37.5, 787.5], xTicks: TAIL_X_TICKS,
    yRange: [-14595, -1313], yTicks: E_Y_TICKS, yTitleGap: 52,
    legend: { l: 730, t: 509, r: 865, b: 635 },
    series: [
      { x: TAIL_EP, y: E_OURS }, { x: TAIL_FINE_EP, y: E_ENC }, { x: TAIL_EP, y: E_PNC },
      { x: TAIL_FINE_EP, y: E_RDRL }, { x: FLAT_EP, y: E_COL }, { x: TAIL_FINE_EP, y: E_NRL },
    ],
  },
  {
    caption: '(f) Synthetic Tail', capX: 1159, capY: 705,
    frame: { l: 1007, t: 379, r: 1343, b: 638 }, xRange: [-37.5, 787.5], xTicks: TAIL_X_TICKS,
    yRange: [-12020, -3482], yTicks: F_Y_TICKS, yTitleGap: 52,
    legend: { l: 1236, t: 529, r: 1335, b: 635 },
    series: [
      { x: TAIL_EP, y: F_OURS }, { x: TAIL_EP, y: F_ENC }, { x: TAIL_EP, y: F_PNC },
      { x: TAIL_FINE_EP, y: F_RDRL }, { x: FLAT_EP, y: F_COL },
    ],
  },
];

const PAD_L = 70, PAD_T = 10, PAD_R = 10, PAD_B = 50;
const TICK_FONT = { family: 'DejaVu Sans', size: 8.5 };
const TITLE_FONT = { family: 'DejaVu Sans', size: 12.5 };

const fmt = (v: number) => (v < 0 ? '\u2212' + Math.abs(v) : String(v));

const framePlugin = {
  id: 'frameBox',
  afterDraw(chart: any) {
    const { ctx, chartArea } = chart;
    ctx.save();
    ctx.strokeStyle = '#333';
    ctx.lineWidth = 1;
    ctx.strokeRect(
      Math.round(chartArea.left) - 0.5, Math.round(chartArea.top) - 0.5,
      Math.round(chartArea.right - chartArea.left) + 1, Math.round(chartArea.bottom - chartArea.top) + 1,
    );
    ctx.restore();
  },
};

function makeLegendPlugin(box: Box) {
  return {
    id: 'innerLegend',
    afterDraw(chart: any) {
      const ctx = chart.ctx as CanvasRenderingContext2D;
      const { l, t, r, b } = box;
      const w = r - l, h = b - t, rad = 3;
      ctx.save();
      ctx.beginPath();
      ctx.moveTo(l + rad, t);
      ctx.lineTo(l + w - rad, t);
      ctx.quadraticCurveTo(l + w, t, l + w, t + rad);
      ctx.lineTo(l + w, t + h - rad);
      ctx.quadraticCurveTo(l + w, t + h, l + w - rad, t + h);
      ctx.lineTo(l + rad, t + h);
      ctx.quadraticCurveTo(l, t + h, l, t + h - rad);
      ctx.lineTo(l, t + rad);
      ctx.quadraticCurveTo(l, t, l + rad, t);
      ctx.closePath();
      ctx.fillStyle = 'rgba(255,255,255,0.8)';
      ctx.fill();
      ctx.strokeStyle = '#cccccc';
      ctx.lineWidth = 1;
      ctx.stroke();
      ctx.font = '13.3px "DejaVu Sans"';
      ctx.textBaseline = 'middle';
      chart.data.datasets.forEach((ds: any, i: number) => {
        const y = t + 11.5 + i * 19.5;
        ctx.strokeStyle = ds.borderColor;
        ctx.lineWidth = 1.5;
        ctx.beginPath();
        ctx.moveTo(l + 5, y);
        ctx.lineTo(l + 33, y);
        ctx.stroke();
        ctx.fillStyle = '#111';
        ctx.fillText(ds.label, l + 43, y + 0.5);
      });
      ctx.restore();
    },
  };
}

function Panel({ cfg }: { cfg: PanelCfg }) {
  const ref = useRef<HTMLCanvasElement | null>(null);
  const fw = cfg.frame.r - cfg.frame.l;
  const fh = cfg.frame.b - cfg.frame.t;
  const W = fw + PAD_L + PAD_R;
  const H = fh + PAD_T + PAD_B;
  const cL = cfg.frame.l - PAD_L;
  const cT = cfg.frame.t - PAD_T;

  useEffect(() => {
    if (!ref.current) return;
    const datasets = cfg.series.map((s, i) => {
      const n = Math.min(s.x.length, s.y.length);
      const pts = [] as { x: number; y: number }[];
      for (let k = 0; k < n; k++) pts.push({ x: s.x[k], y: s.y[k] });
      return {
        label: SERIES_NAMES[i],
        data: pts,
        borderColor: SERIES_COLORS[i],
        backgroundColor: SERIES_COLORS[i],
        borderWidth: 1.3,
        pointRadius: 0,
        tension: 0,
        fill: false,
        order: 10 - i,
      };
    });
    const legendBox: Box = {
      l: cfg.legend.l - cL, t: cfg.legend.t - cT, r: cfg.legend.r - cL, b: cfg.legend.b - cT,
    };
    const chart = new Chart(ref.current, {
      type: 'line',
      data: { datasets },
      options: {
        responsive: false,
        animation: false,
        events: [],
        layout: { padding: { left: 0, top: PAD_T, right: PAD_R, bottom: 0 } },
        plugins: { legend: { display: false }, tooltip: { enabled: false } },
        scales: {
          x: {
            type: 'linear',
            min: cfg.xRange[0],
            max: cfg.xRange[1],
            afterFit: (s: any) => { s.height = PAD_B; },
            afterBuildTicks: (s: any) => { s.ticks = cfg.xTicks.map((v) => ({ value: v })); },
            grid: { display: true, drawOnChartArea: false, drawTicks: true, tickLength: 3, color: '#222', lineWidth: 0.8 },
            border: { display: false },
            ticks: {
              autoSkip: false, maxRotation: 0, minRotation: 0, padding: 1, color: '#111',
              font: TICK_FONT, callback: (v: any) => fmt(Number(v)),
            },
            title: {
              display: true, text: 'Episode', color: '#111', font: TITLE_FONT,
              padding: { top: 0, bottom: 17.5 },
            },
          },
          y: {
            type: 'linear',
            min: cfg.yRange[0],
            max: cfg.yRange[1],
            afterFit: (s: any) => { s.width = PAD_L; },
            afterBuildTicks: (s: any) => { s.ticks = cfg.yTicks.map((v) => ({ value: v })); },
            grid: { display: true, drawOnChartArea: false, drawTicks: true, tickLength: 3, color: '#222', lineWidth: 0.8 },
            border: { display: false },
            ticks: {
              autoSkip: false, padding: 2, color: '#111',
              font: TICK_FONT, callback: (v: any) => fmt(Number(v)),
            },
            title: {
              display: true, text: 'Reward', color: '#111', font: TITLE_FONT,
              padding: { top: PAD_L - cfg.yTitleGap - 7.5, bottom: 0 },
            },
          },
        },
      } as any,
      plugins: [framePlugin, makeLegendPlugin(legendBox)],
    });
    return () => chart.destroy();
  }, []);

  return (
    <>
      <canvas
        ref={ref}
        width={W}
        height={H}
        style={{ position: 'absolute', left: cL, top: cT, width: W, height: H }}
      />
      <div
        style={{
          position: 'absolute', left: cfg.capX - 250, top: cfg.capY - 15, width: 500,
          textAlign: 'center', fontFamily: '"Liberation Sans", Arial, sans-serif',
          fontSize: 26, lineHeight: '30px', color: '#111', whiteSpace: 'nowrap',
        }}
      >
        {cfg.caption}
      </div>
    </>
  );
}

export default function App() {
  return (
    <div style={{ position: 'absolute', left: 0, top: 0, width: 1364, height: 721, background: '#fff' }}>
      {PANELS.map((p) => (
        <Panel key={p.caption} cfg={p} />
      ))}
    </div>
  );
}
